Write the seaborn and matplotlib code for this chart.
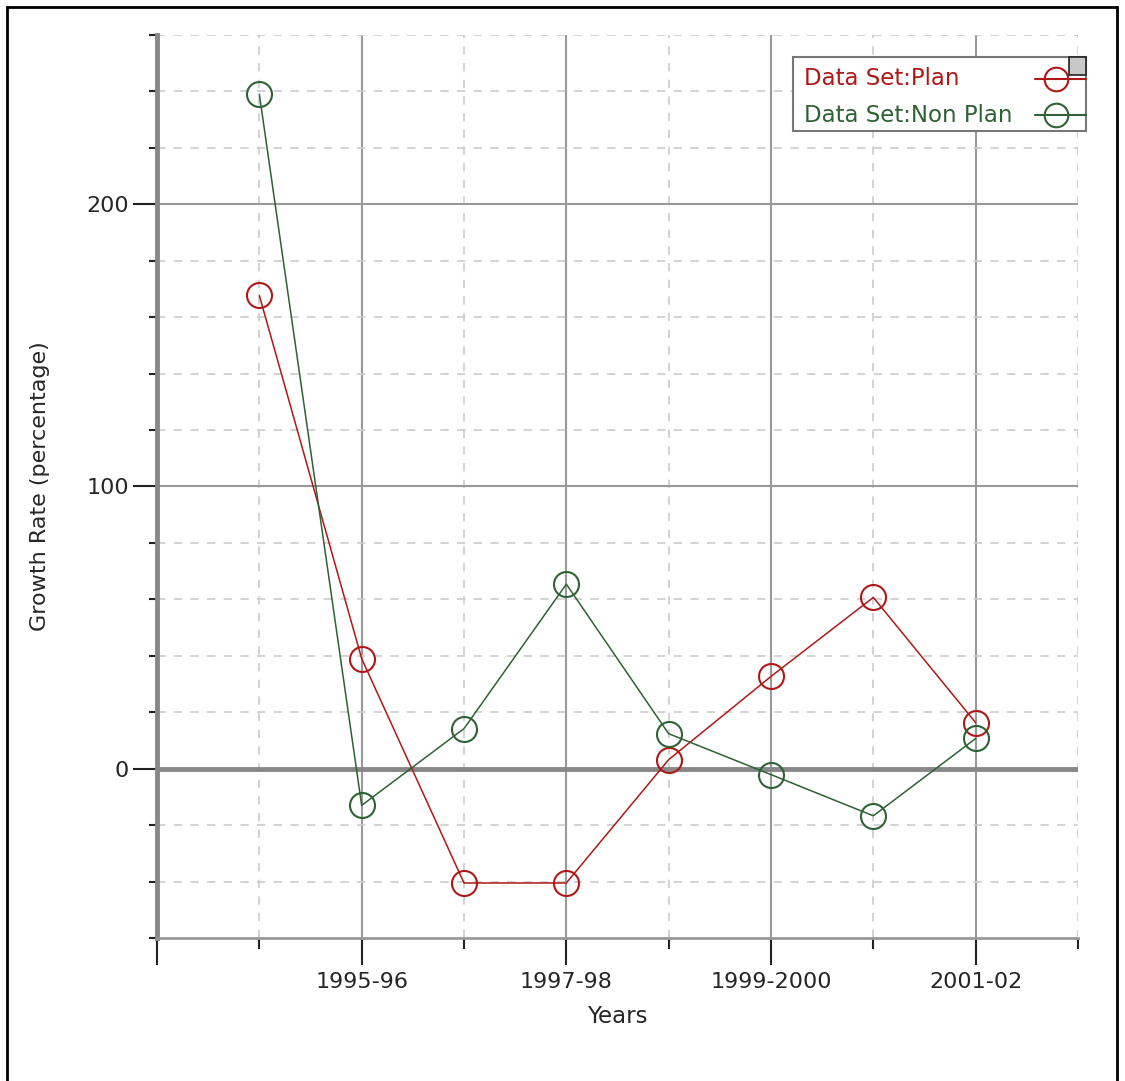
import matplotlib
matplotlib.use("Agg")
import matplotlib.pyplot as plt
import seaborn as sns
import pandas as pd
from matplotlib.patches import Rectangle
from matplotlib.lines import Line2D

years = ["1994-95", "1995-96", "1996-97", "1997-98", "1998-99",
         "1999-2000", "2000-01", "2001-02"]
plan = [167.7, 39.0, -40.5, -40.5, 3.2, 32.7, 60.7, 16.3]
non_plan = [239.0, -13.0, 14.2, 65.4, 12.4, -2.1, -16.7, 10.7]
series_names = ["Data Set:Plan", "Data Set:Non Plan"]
colors = ["#b01818", "#2e6234"]

df = pd.DataFrame({
    "pos": list(range(len(years))) * 2,
    "value": plan + non_plan,
    "series": [series_names[0]] * len(years) + [series_names[1]] * len(years),
})

sns.set_style("white")
plt.rcParams["font.family"] = ["DejaVu Sans"]

fig = plt.figure(figsize=(11.25, 10.81), dpi=100)
ax = fig.add_axes([157 / 1125, 1 - 938 / 1081, (1078 - 157) / 1125, (938 - 35) / 1081])

# grid lines: solid at labelled positions, dashed between
for xv in range(0, 9):
    if xv % 2 == 1:
        ax.axvline(xv, color="#999999", lw=1.5, zorder=0)
    else:
        ax.axvline(xv, color="#cccccc", lw=1.2, ls=(0, (5, 5)), zorder=0)
for yv in range(-40, 261, 20):
    if yv == 0:
        ax.axhline(0, color="#888888", lw=3.5, zorder=0)
    elif yv % 100 == 0:
        ax.axhline(yv, color="#999999", lw=1.5, zorder=0)
    else:
        ax.axhline(yv, color="#cccccc", lw=1.2, ls=(0, (5, 5)), zorder=0)

sns.lineplot(data=df, x="pos", y="value", hue="series", palette=colors,
             marker="o", markersize=18, markerfacecolor="none",
             markeredgewidth=1.5, lw=1.1, legend=False, ax=ax, zorder=3)
for line, c in zip(ax.lines[-2:], colors):
    line.set_markeredgecolor(c)

ax.set_xlim(-1, 8)
ax.set_ylim(-60, 260)
ax.set_xticks([-1, 1, 3, 5, 7])
ax.set_xticklabels(["", years[1], years[3], years[5], years[7]])
ax.set_xticks([0, 2, 4, 6, 8], minor=True)
ax.set_yticks([0, 100, 200])
ax.set_yticks(range(-60, 261, 20), minor=True)
ax.tick_params(axis="x", which="major", length=19.5, width=1.5, color="#222222",
               labelsize=16, pad=5)
ax.tick_params(axis="x", which="minor", length=8, width=1.5, color="#222222")
ax.tick_params(axis="y", which="major", length=17, width=1.5, color="#222222",
               labelsize=16, pad=3)
ax.tick_params(axis="y", which="minor", length=6, width=1.5, color="#222222")
ax.tick_params(bottom=True, left=True, which="both")

for s in ["top", "right"]:
    ax.spines[s].set_visible(False)
ax.spines["left"].set_color("#888888")
ax.spines["left"].set_linewidth(3.5)
ax.spines["bottom"].set_color("#999999")
ax.spines["bottom"].set_linewidth(2)

ax.set_xlabel("Years", fontsize=16.5, labelpad=9)
ax.set_ylabel("Growth Rate (percentage)", fontsize=16, labelpad=26)

# legend box drawn by hand: text on the left, marker on the right
tr = ax.transAxes
ax.add_patch(Rectangle((0.6906, 0.8937), 0.3181, 0.0819, transform=tr,
                       facecolor="white", edgecolor="#777777", lw=1.5,
                       clip_on=False, zorder=5))
for name, c, ty in zip(series_names, colors, [0.9513, 0.9114]):
    ax.text(0.7025, ty, name, color=c, fontsize=16.5, transform=tr,
            ha="left", va="center", zorder=6)
    ax.add_line(Line2D([0.9533, 1.0087], [ty, ty], color=c, lw=1.5,
                       transform=tr, clip_on=False, zorder=6))
    ax.add_line(Line2D([0.9761], [ty], color=c, marker="o", markersize=17,
                       markerfacecolor="none", markeredgewidth=1.5,
                       transform=tr, clip_on=False, zorder=6))
ax.add_patch(Rectangle((0.9902, 0.9557), 0.0185, 0.0199, transform=tr,
                       facecolor="#c8c8c8", edgecolor="#222222", lw=1.2,
                       clip_on=False, zorder=7))

# figure border
fig.patches.append(Rectangle((7 / 1125, -0.01), (1117 - 7) / 1125, 1 - 7 / 1081 + 0.01,
                             transform=fig.transFigure, fill=False,
                             edgecolor="black", lw=2))

fig.savefig("out.png", dpi=100)
